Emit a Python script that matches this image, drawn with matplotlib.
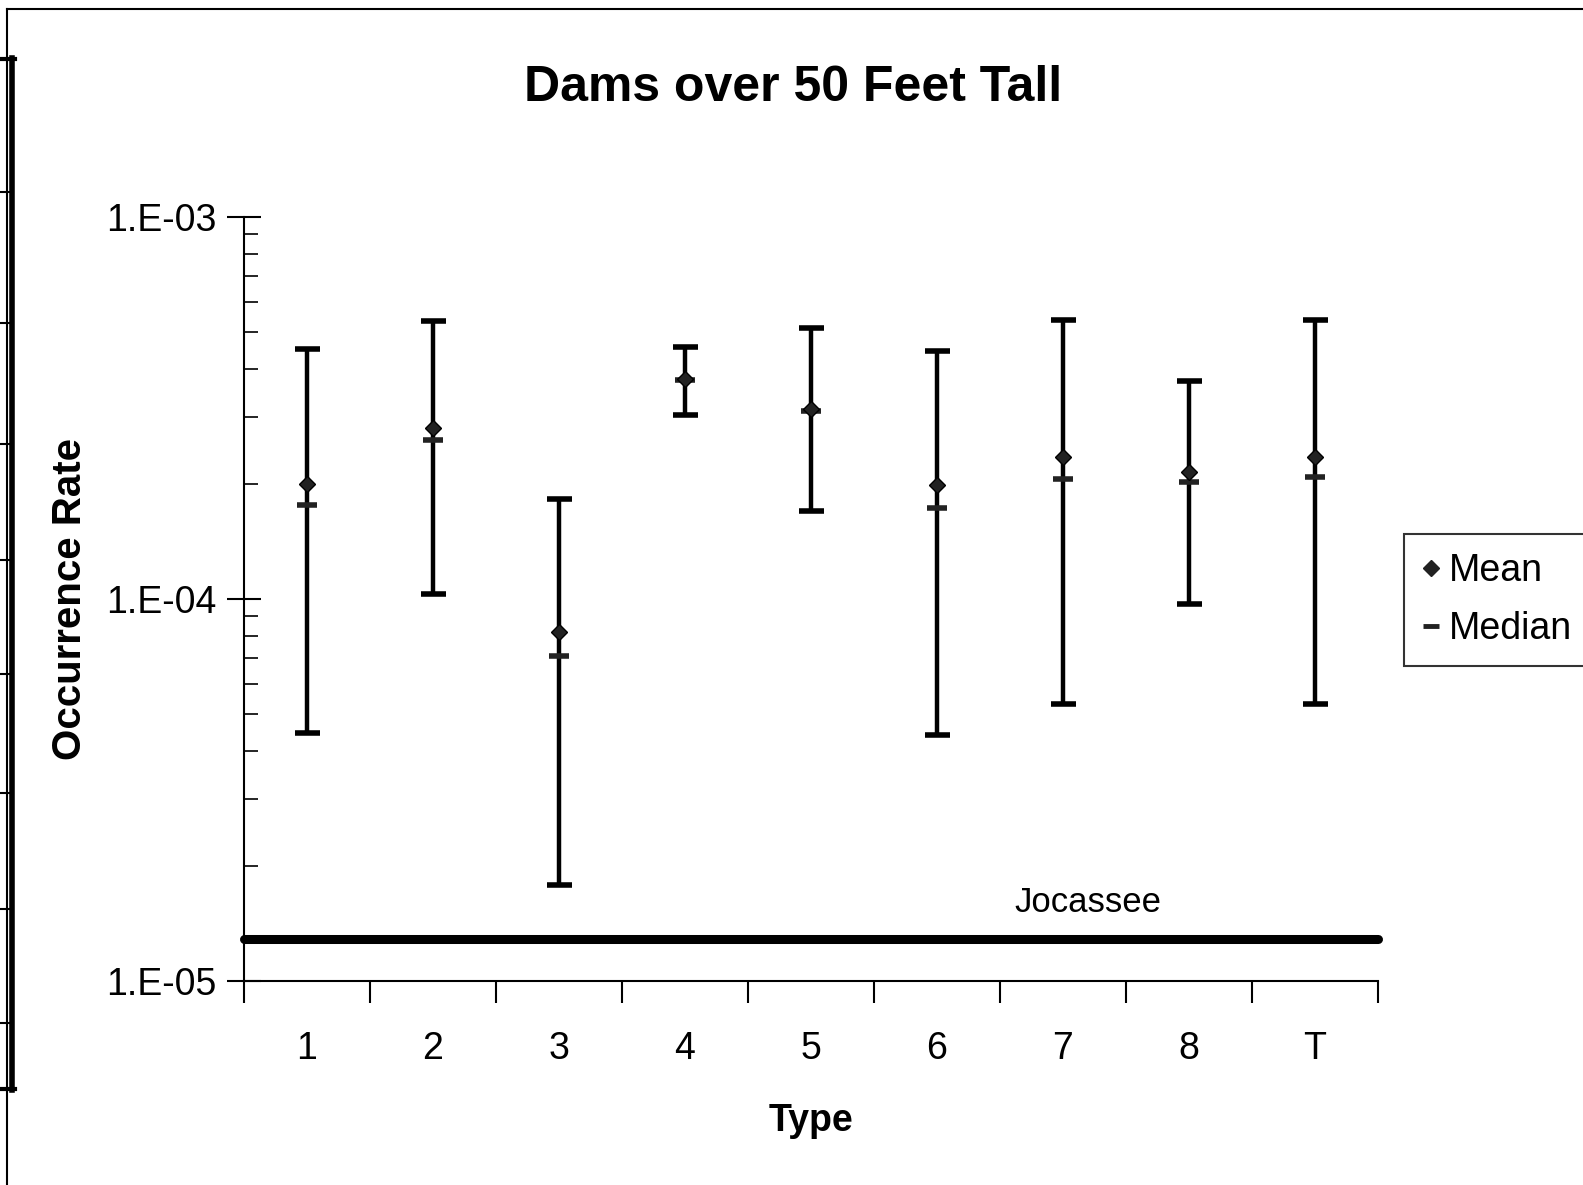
import matplotlib
matplotlib.use("Agg")
import matplotlib.pyplot as plt
from matplotlib.lines import Line2D
import numpy as np

types = ["1", "2", "3", "4", "5", "6", "7", "8", "T"]
mean_vals = [2.0e-4, 2.8e-4, 8.2e-5, 3.77e-4, 3.14e-4, 1.99e-4, 2.36e-4, 2.15e-4, 2.36e-4]
median_vals = [1.76e-4, 2.6e-4, 7.1e-5, 3.75e-4, 3.1e-4, 1.73e-4, 2.06e-4, 2.03e-4, 2.09e-4]
upper_vals = [4.5e-4, 5.34e-4, 1.83e-4, 4.57e-4, 5.12e-4, 4.45e-4, 5.37e-4, 3.73e-4, 5.37e-4]
lower_vals = [4.45e-5, 1.03e-4, 1.78e-5, 3.03e-4, 1.70e-4, 4.4e-5, 5.3e-5, 9.7e-5, 5.3e-5]
jocassee = 1.285e-5

FAM = ["Liberation Sans", "DejaVu Sans"]
plt.rcParams["font.family"] = FAM

W, H = 1583, 1185
fig = plt.figure(figsize=(W / 100, H / 100), dpi=100)
fig.patch.set_facecolor("white")

ax = fig.add_axes([244 / W, 1 - 981 / H, (1378 - 244) / W, (981 - 217) / H])
ax.set_yscale("log")
ax.set_ylim(1e-5, 1e-3)
n = len(types)
ax.set_xlim(0, n)
x = np.arange(n) + 0.5

means = np.array(mean_vals)
ax.errorbar(x, means, yerr=[means - np.array(lower_vals), np.array(upper_vals) - means],
            fmt="none", ecolor="black", elinewidth=3.2, capsize=9, capthick=4, zorder=2)
ax.plot(x, median_vals, linestyle="none", marker="_", markersize=14, markeredgewidth=4,
        color="#222222", zorder=3, label="Median")
ax.plot(x, mean_vals, linestyle="none", marker="D", markersize=8, color="#222222",
        markeredgecolor="black", zorder=4, label="Mean")

ax.plot([0, n], [jocassee, jocassee], color="black", linewidth=6.5,
        solid_capstyle="round", zorder=5, clip_on=False)
ax.text(6.7, 1.45e-5, "Jocassee", ha="center", va="bottom", fontsize=25)

for s in ["top", "right"]:
    ax.spines[s].set_visible(False)
for s in ["left", "bottom"]:
    ax.spines[s].set_linewidth(1.5)

ax.set_yticks([1e-5, 1e-4, 1e-3])
ax.set_yticklabels(["1.E-05", "1.E-04", "1.E-03"], fontsize=27)
ax.tick_params(axis="y", which="major", direction="inout", length=24, width=1.5, pad=8)
ax.tick_params(axis="y", which="minor", direction="in", length=10, width=1.2, labelleft=False)

ax.set_xticks(np.arange(n + 1))
ax.set_xticklabels([])
ax.set_xticks(x, minor=True)
ax.set_xticklabels(types, minor=True, fontsize=27)
ax.tick_params(axis="x", which="major", direction="out", length=16, width=1.5)
ax.tick_params(axis="x", which="minor", length=0, pad=36)

ax.set_xlabel("Type", fontsize=27, fontweight="bold", labelpad=26)
ax.set_ylabel("Occurrence Rate", fontsize=29, fontweight="bold", labelpad=12)

fig.text(793 / W, 1 - 88 / H, "Dams over 50 Feet Tall", ha="center", va="center",
         fontsize=36, fontweight="bold")

# legend
handles = [Line2D([], [], linestyle="none", marker="D", markersize=8, color="#222222"),
           Line2D([], [], linestyle="none", marker="_", markersize=12, markeredgewidth=3.5,
                  color="#222222")]
leg = fig.legend(handles, ["Mean", "Median"], loc="center left",
                 bbox_to_anchor=(1404 / W, 1 - 600 / H), fontsize=27, frameon=True,
                 fancybox=False, edgecolor="black", handlelength=0.45, handletextpad=0.25,
                 borderpad=0.5, borderaxespad=0, labelspacing=0.6)
leg.get_frame().set_linewidth(1.5)

# scan frame / edge decorations
def fl(xs, ys, lw, **kw):
    fig.add_artist(Line2D([v / W for v in xs], [1 - v / H for v in ys], color="black",
                          linewidth=lw, transform=fig.transFigure, **kw))

fl([7, 7], [9, H], 1.5)
fl([7, W], [9, 9], 1.5)
fl([12.5, 12.5], [58, 1090], 4.0)
fl([0, 15], [59, 59], 3.0)
fl([0, 15], [1089, 1089], 3.0)
for yy in [192, 323, 444, 560, 674, 793, 909, 1023]:
    fl([0, 11], [yy, yy], 1.5)

fig.savefig("out.png", dpi=100, facecolor="white")
